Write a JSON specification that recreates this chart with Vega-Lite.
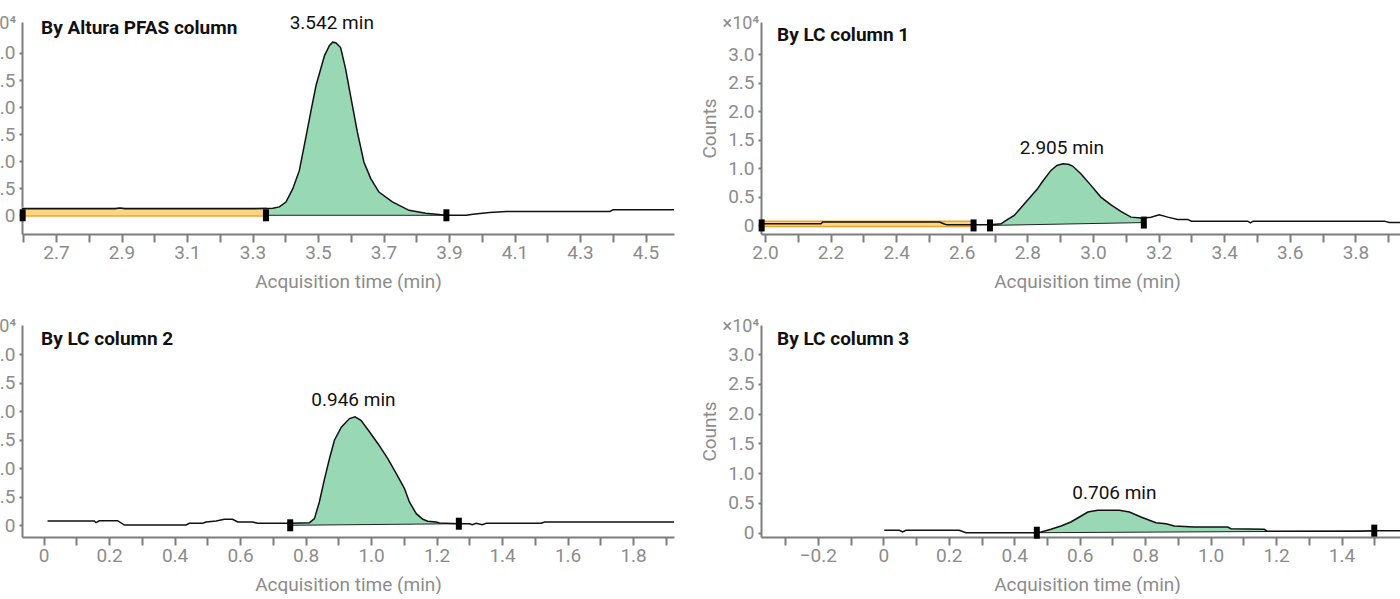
{
  "$schema": "https://vega.github.io/schema/vega-lite/v6.json",
  "padding": {"left": -39, "top": 14, "right": 0, "bottom": 0},
  "background": "white",
  "columns": 2,
  "spacing": {"row": 27, "column": 23},
  "datasets": {
    "tl_trace": [
      {"t": 2.596, "c": 1200}, {"t": 2.70, "c": 1200}, {"t": 2.88, "c": 1200}, {"t": 2.895, "c": 1350}, {"t": 2.91, "c": 1200},
      {"t": 3.10, "c": 1200}, {"t": 3.30, "c": 1200}, {"t": 3.341, "c": 1250}, {"t": 3.362, "c": 1300}, {"t": 3.382, "c": 1550},
      {"t": 3.402, "c": 2460}, {"t": 3.423, "c": 4920}, {"t": 3.443, "c": 8300}, {"t": 3.464, "c": 14790}, {"t": 3.479, "c": 19500},
      {"t": 3.494, "c": 24030}, {"t": 3.52, "c": 29570}, {"t": 3.535, "c": 31400}, {"t": 3.545, "c": 32000}, {"t": 3.554, "c": 31900},
      {"t": 3.569, "c": 31000}, {"t": 3.584, "c": 27100}, {"t": 3.599, "c": 22200}, {"t": 3.620, "c": 15400}, {"t": 3.640, "c": 9850},
      {"t": 3.661, "c": 6770}, {"t": 3.686, "c": 4300}, {"t": 3.727, "c": 2460}, {"t": 3.778, "c": 920}, {"t": 3.829, "c": 370},
      {"t": 3.892, "c": 0}, {"t": 3.953, "c": 0}, {"t": 3.973, "c": 200}, {"t": 4.024, "c": 500}, {"t": 4.075, "c": 700},
      {"t": 4.391, "c": 700}, {"t": 4.401, "c": 1000}, {"t": 4.587, "c": 1000}
    ],
    "tl_peak": [
      {"t": 3.341, "c": 1250, "b": 0}, {"t": 3.362, "c": 1300, "b": 0}, {"t": 3.382, "c": 1550, "b": 0},
      {"t": 3.402, "c": 2460, "b": 0}, {"t": 3.423, "c": 4920, "b": 0}, {"t": 3.443, "c": 8300, "b": 0}, {"t": 3.464, "c": 14790, "b": 0}, {"t": 3.479, "c": 19500, "b": 0},
      {"t": 3.494, "c": 24030, "b": 0}, {"t": 3.52, "c": 29570, "b": 0}, {"t": 3.535, "c": 31400, "b": 0}, {"t": 3.545, "c": 32000, "b": 0}, {"t": 3.554, "c": 31900, "b": 0},
      {"t": 3.569, "c": 31000, "b": 0}, {"t": 3.584, "c": 27100, "b": 0}, {"t": 3.599, "c": 22200, "b": 0}, {"t": 3.620, "c": 15400, "b": 0}, {"t": 3.640, "c": 9850, "b": 0},
      {"t": 3.661, "c": 6770, "b": 0}, {"t": 3.686, "c": 4300, "b": 0}, {"t": 3.727, "c": 2460, "b": 0}, {"t": 3.778, "c": 920, "b": 0}, {"t": 3.829, "c": 370, "b": 0},
      {"t": 3.892, "c": 0, "b": 0}
    ],
    "tl_band": [{"t": 2.598, "c": 1330, "c2": -130}, {"t": 3.341, "c": 1330, "c2": -130}],
    "tl_base": [{"t": 3.341, "c": 0}, {"t": 3.892, "c": 0}],
    "tl_mark": [{"t": 2.598, "c": 0}, {"t": 3.341, "c": 0}, {"t": 3.892, "c": 0}],
    "tl_text": [
      {"t": 3.542, "c": 32000, "label": "3.542 min", "kind": "peak"},
      {"t": 2.596, "c": 35730, "label": "By Altura PFAS column", "kind": "title"},
      {"t": 2.596, "c": 35730, "label": "×10⁴", "kind": "unit"}
    ],
    "tr_trace": [
      {"t": 1.99, "c": 280}, {"t": 2.171, "c": 280}, {"t": 2.176, "c": 580}, {"t": 2.532, "c": 580}, {"t": 2.545, "c": 300},
      {"t": 2.555, "c": 100}, {"t": 2.636, "c": 100}, {"t": 2.686, "c": 100}, {"t": 2.72, "c": 280}, {"t": 2.735, "c": 870},
      {"t": 2.76, "c": 1750}, {"t": 2.791, "c": 3780}, {"t": 2.831, "c": 6410}, {"t": 2.845, "c": 7600}, {"t": 2.872, "c": 9630},
      {"t": 2.89, "c": 10500}, {"t": 2.908, "c": 10790}, {"t": 2.925, "c": 10700}, {"t": 2.938, "c": 10390}, {"t": 2.963, "c": 9040},
      {"t": 2.994, "c": 7010}, {"t": 3.024, "c": 4960}, {"t": 3.055, "c": 3610}, {"t": 3.085, "c": 2450}, {"t": 3.116, "c": 1450},
      {"t": 3.146, "c": 1280}, {"t": 3.155, "c": 1280}, {"t": 3.177, "c": 1450}, {"t": 3.202, "c": 1860}, {"t": 3.228, "c": 1450},
      {"t": 3.258, "c": 1050}, {"t": 3.289, "c": 1050}, {"t": 3.30, "c": 750}, {"t": 3.472, "c": 750}, {"t": 3.48, "c": 460},
      {"t": 3.488, "c": 750}, {"t": 3.888, "c": 750}, {"t": 3.903, "c": 530}, {"t": 3.939, "c": 530}
    ],
    "tr_peak": [
      {"t": 2.686, "c": 100, "b": 0}, {"t": 2.72, "c": 280, "b": 36}, {"t": 2.735, "c": 870, "b": 52}, {"t": 2.76, "c": 1750, "b": 79},
      {"t": 2.791, "c": 3780, "b": 112}, {"t": 2.831, "c": 6410, "b": 155}, {"t": 2.845, "c": 7600, "b": 170}, {"t": 2.872, "c": 9630, "b": 198},
      {"t": 2.89, "c": 10500, "b": 217}, {"t": 2.908, "c": 10790, "b": 237}, {"t": 2.925, "c": 10700, "b": 255}, {"t": 2.938, "c": 10390, "b": 269},
      {"t": 2.963, "c": 9040, "b": 295}, {"t": 2.994, "c": 7010, "b": 328}, {"t": 3.024, "c": 4960, "b": 360}, {"t": 3.055, "c": 3610, "b": 393},
      {"t": 3.085, "c": 2450, "b": 425}, {"t": 3.116, "c": 1450, "b": 458}, {"t": 3.146, "c": 1280, "b": 490}, {"t": 3.155, "c": 1280, "b": 500}
    ],
    "tr_band": [{"t": 1.99, "c": 750, "c2": -170}, {"t": 2.636, "c": 750, "c2": -170}],
    "tr_base": [{"t": 2.686, "c": 0}, {"t": 3.155, "c": 500}],
    "tr_mark": [{"t": 1.99, "c": 0}, {"t": 2.636, "c": 0}, {"t": 2.686, "c": 0}, {"t": 3.155, "c": 500}],
    "tr_text": [
      {"t": 2.905, "c": 10790, "label": "2.905 min", "kind": "peak"},
      {"t": 1.988, "c": 35600, "label": "By LC column 1", "kind": "title"},
      {"t": 1.988, "c": 35600, "label": "×10⁴", "kind": "unit"}
    ],
    "bl_trace": [
      {"t": 0.012, "c": 750}, {"t": 0.155, "c": 750}, {"t": 0.160, "c": 460}, {"t": 0.170, "c": 800}, {"t": 0.226, "c": 800},
      {"t": 0.2466, "c": 50}, {"t": 0.435, "c": 50}, {"t": 0.445, "c": 350}, {"t": 0.486, "c": 350}, {"t": 0.496, "c": 580},
      {"t": 0.527, "c": 750}, {"t": 0.552, "c": 1050}, {"t": 0.577, "c": 1050}, {"t": 0.593, "c": 580}, {"t": 0.638, "c": 580},
      {"t": 0.654, "c": 350}, {"t": 0.753, "c": 350}, {"t": 0.812, "c": 460}, {"t": 0.827, "c": 1160}, {"t": 0.842, "c": 4090},
      {"t": 0.858, "c": 8180}, {"t": 0.873, "c": 11700}, {"t": 0.888, "c": 14900}, {"t": 0.909, "c": 17200}, {"t": 0.934, "c": 18700},
      {"t": 0.951, "c": 19000}, {"t": 0.969, "c": 18400}, {"t": 0.995, "c": 16400}, {"t": 1.021, "c": 14300}, {"t": 1.051, "c": 11700},
      {"t": 1.077, "c": 9050}, {"t": 1.102, "c": 6430}, {"t": 1.117, "c": 4090}, {"t": 1.138, "c": 2040}, {"t": 1.158, "c": 1050},
      {"t": 1.173, "c": 700}, {"t": 1.199, "c": 580}, {"t": 1.209, "c": 400}, {"t": 1.268, "c": 280}, {"t": 1.301, "c": 280},
      {"t": 1.309, "c": 100}, {"t": 1.321, "c": 350}, {"t": 1.339, "c": 100}, {"t": 1.352, "c": 350}, {"t": 1.519, "c": 350},
      {"t": 1.530, "c": 580}, {"t": 1.925, "c": 580}
    ],
    "bl_peak": [
      {"t": 0.753, "c": 350, "b": 0}, {"t": 0.812, "c": 460, "b": 32}, {"t": 0.827, "c": 1160, "b": 40}, {"t": 0.842, "c": 4090, "b": 48},
      {"t": 0.858, "c": 8180, "b": 57}, {"t": 0.873, "c": 11700, "b": 65}, {"t": 0.888, "c": 14900, "b": 73}, {"t": 0.909, "c": 17200, "b": 85},
      {"t": 0.934, "c": 18700, "b": 98}, {"t": 0.951, "c": 19000, "b": 108}, {"t": 0.969, "c": 18400, "b": 117}, {"t": 0.995, "c": 16400, "b": 132},
      {"t": 1.021, "c": 14300, "b": 146}, {"t": 1.051, "c": 11700, "b": 162}, {"t": 1.077, "c": 9050, "b": 176}, {"t": 1.102, "c": 6430, "b": 190},
      {"t": 1.117, "c": 4090, "b": 198}, {"t": 1.138, "c": 2040, "b": 209}, {"t": 1.158, "c": 1050, "b": 220}, {"t": 1.173, "c": 700, "b": 228},
      {"t": 1.199, "c": 580, "b": 242}, {"t": 1.209, "c": 400, "b": 248}, {"t": 1.268, "c": 280, "b": 280}
    ],
    "bl_base": [{"t": 0.753, "c": 0}, {"t": 1.268, "c": 280}],
    "bl_mark": [{"t": 0.753, "c": 0}, {"t": 1.268, "c": 280}],
    "bl_text": [
      {"t": 0.946, "c": 19000, "label": "0.946 min", "kind": "peak"},
      {"t": -0.066, "c": 35100, "label": "By LC column 2", "kind": "title"},
      {"t": -0.066, "c": 35100, "label": "×10⁴", "kind": "unit"}
    ],
    "br_trace": [
      {"t": 0.003, "c": 400}, {"t": 0.049, "c": 400}, {"t": 0.059, "c": 120}, {"t": 0.069, "c": 400}, {"t": 0.232, "c": 400},
      {"t": 0.252, "c": 0}, {"t": 0.469, "c": 0}, {"t": 0.482, "c": 120}, {"t": 0.512, "c": 570}, {"t": 0.543, "c": 1130},
      {"t": 0.573, "c": 1800}, {"t": 0.594, "c": 2470}, {"t": 0.625, "c": 3480}, {"t": 0.655, "c": 3770}, {"t": 0.721, "c": 3770},
      {"t": 0.752, "c": 3480}, {"t": 0.787, "c": 2640}, {"t": 0.833, "c": 1680}, {"t": 0.864, "c": 1520}, {"t": 0.889, "c": 1130},
      {"t": 0.950, "c": 960}, {"t": 1.052, "c": 960}, {"t": 1.062, "c": 670}, {"t": 1.164, "c": 570}, {"t": 1.174, "c": 230},
      {"t": 1.45, "c": 260}, {"t": 1.5, "c": 320}, {"t": 1.5817, "c": 320}
    ],
    "br_peak": [
      {"t": 0.469, "c": 0, "b": 0}, {"t": 0.482, "c": 120, "b": 4}, {"t": 0.512, "c": 570, "b": 13}, {"t": 0.543, "c": 1130, "b": 22},
      {"t": 0.573, "c": 1800, "b": 30}, {"t": 0.594, "c": 2470, "b": 36}, {"t": 0.625, "c": 3480, "b": 45}, {"t": 0.655, "c": 3770, "b": 54},
      {"t": 0.721, "c": 3770, "b": 73}, {"t": 0.752, "c": 3480, "b": 82}, {"t": 0.787, "c": 2640, "b": 93}, {"t": 0.833, "c": 1680, "b": 106},
      {"t": 0.864, "c": 1520, "b": 115}, {"t": 0.889, "c": 1130, "b": 122}, {"t": 0.950, "c": 960, "b": 140}, {"t": 1.052, "c": 960, "b": 170},
      {"t": 1.062, "c": 670, "b": 173}, {"t": 1.164, "c": 570, "b": 202}, {"t": 1.174, "c": 230, "b": 205}, {"t": 1.45, "c": 260, "b": 286},
      {"t": 1.5, "c": 320, "b": 300}
    ],
    "br_base": [{"t": 0.469, "c": 0}, {"t": 1.5, "c": 300}],
    "br_mark": [{"t": 0.469, "c": 0}, {"t": 1.5, "c": 350}],
    "br_text": [
      {"t": 0.706, "c": 3770, "label": "0.706 min", "kind": "peak"},
      {"t": -0.3737, "c": 34900, "label": "By LC column 3", "kind": "title"},
      {"t": -0.3737, "c": 34900, "label": "×10⁴", "kind": "unit"}
    ]
  },
  "concat": [
    {
      "width": 652, "height": 212,
      "encoding": {
        "x": {"field": "t", "type": "quantitative", "title": "Acquisition time (min)",
          "scale": {"domain": [2.596, 4.587], "nice": false, "zero": false},
          "axis": {"values": [2.6, 2.7, 2.8, 2.9, 3.0, 3.1, 3.2, 3.3, 3.4, 3.5, 3.6, 3.7, 3.8, 3.9, 4.0, 4.1, 4.2, 4.3, 4.4, 4.5],
            "labelExpr": "abs(round(datum.value*10)) % 2 == 1 ? format(datum.value, '.1f') : ''"}},
        "y": {"field": "c", "type": "quantitative", "title": "Counts",
          "scale": {"domain": [-3460, 35730], "nice": false, "zero": false},
          "axis": {"values": [0, 5000, 10000, 15000, 20000, 25000, 30000],
            "labelExpr": "datum.value == 0 ? '0' : format(datum.value/10000, '.1f')"}}
      },
      "layer": [
        {"data": {"name": "tl_band"}, "mark": {"type": "area", "fill": "#FFD583", "stroke": "#EFA42F", "strokeWidth": 1.5}, "encoding": {"y2": {"field": "c2"}}},
        {"data": {"name": "tl_peak"}, "mark": {"type": "area", "fill": "#98D8B5", "opacity": 1}, "encoding": {"y2": {"field": "b"}}},
        {"data": {"name": "tl_base"}, "mark": {"type": "line", "color": "#222222", "strokeWidth": 1}, "encoding": {}},
        {"data": {"name": "tl_trace"}, "mark": {"type": "line", "color": "#111111", "strokeWidth": 1.5}, "encoding": {}},
        {"data": {"name": "tl_mark"}, "mark": {"type": "tick", "orient": "vertical", "color": "#000000", "thickness": 6, "size": 12, "opacity": 1}, "encoding": {}},
        {"data": {"name": "tl_text"}, "transform": [{"filter": "datum.kind == 'peak'"}], "mark": {"type": "text", "align": "center", "baseline": "middle", "dy": -19, "fontSize": 19, "color": "#111111"}, "encoding": {"text": {"field": "label"}}},
        {"data": {"name": "tl_text"}, "transform": [{"filter": "datum.kind == 'title'"}], "mark": {"type": "text", "align": "left", "baseline": "middle", "dx": 19, "dy": 6, "fontSize": 19, "fontWeight": "bold", "color": "#111111"}, "encoding": {"text": {"field": "label"}}},
        {"data": {"name": "tl_text"}, "transform": [{"filter": "datum.kind == 'unit'"}], "mark": {"type": "text", "align": "right", "baseline": "middle", "dx": -6, "dy": 2, "fontSize": 18, "color": "#8c8c8c"}, "encoding": {"text": {"field": "label"}}}
      ]
    },
    {
      "width": 640, "height": 212,
      "encoding": {
        "x": {"field": "t", "type": "quantitative", "title": "Acquisition time (min)",
          "scale": {"domain": [1.988, 3.939], "nice": false, "zero": false},
          "axis": {"values": [2.0, 2.1, 2.2, 2.3, 2.4, 2.5, 2.6, 2.7, 2.8, 2.9, 3.0, 3.1, 3.2, 3.3, 3.4, 3.5, 3.6, 3.7, 3.8, 3.9], "titleX": 326,
            "labelExpr": "abs(round(datum.value*10)) % 2 == 0 ? format(datum.value, '.1f') : ''"}},
        "y": {"field": "c", "type": "quantitative", "title": "Counts",
          "scale": {"domain": [-1500, 35600], "nice": false, "zero": false},
          "axis": {"values": [0, 5000, 10000, 15000, 20000, 25000, 30000],
            "labelExpr": "datum.value == 0 ? '0' : format(datum.value/10000, '.1f')"}}
      },
      "layer": [
        {"data": {"name": "tr_band"}, "mark": {"type": "area", "fill": "#FFD583", "stroke": "#EFA42F", "strokeWidth": 1.5}, "encoding": {"y2": {"field": "c2"}}},
        {"data": {"name": "tr_peak"}, "mark": {"type": "area", "fill": "#98D8B5", "opacity": 1}, "encoding": {"y2": {"field": "b"}}},
        {"data": {"name": "tr_base"}, "mark": {"type": "line", "color": "#222222", "strokeWidth": 1}, "encoding": {}},
        {"data": {"name": "tr_trace"}, "mark": {"type": "line", "color": "#111111", "strokeWidth": 1.5}, "encoding": {}},
        {"data": {"name": "tr_mark"}, "mark": {"type": "tick", "orient": "vertical", "color": "#000000", "thickness": 6, "size": 12, "opacity": 1}, "encoding": {}},
        {"data": {"name": "tr_text"}, "transform": [{"filter": "datum.kind == 'peak'"}], "mark": {"type": "text", "align": "center", "baseline": "middle", "dy": -16, "fontSize": 19, "color": "#111111"}, "encoding": {"text": {"field": "label"}}},
        {"data": {"name": "tr_text"}, "transform": [{"filter": "datum.kind == 'title'"}], "mark": {"type": "text", "align": "left", "baseline": "middle", "dx": 16, "dy": 13, "fontSize": 19, "fontWeight": "bold", "color": "#111111"}, "encoding": {"text": {"field": "label"}}},
        {"data": {"name": "tr_text"}, "transform": [{"filter": "datum.kind == 'unit'"}], "mark": {"type": "text", "align": "right", "baseline": "middle", "dx": -2, "dy": 2, "fontSize": 18, "color": "#8c8c8c"}, "encoding": {"text": {"field": "label"}}}
      ]
    },
    {
      "width": 652, "height": 212,
      "encoding": {
        "x": {"field": "t", "type": "quantitative", "title": "Acquisition time (min)",
          "scale": {"domain": [-0.066, 1.925], "nice": false, "zero": false},
          "axis": {"values": [0, 0.1, 0.2, 0.3, 0.4, 0.5, 0.6, 0.7, 0.8, 0.9, 1.0, 1.1, 1.2, 1.3, 1.4, 1.5, 1.6, 1.7, 1.8, 1.9],
            "labelExpr": "abs(round(datum.value*10)) % 2 == 0 ? (datum.value == 0 ? '0' : format(datum.value, '.1f')) : ''"}},
        "y": {"field": "c", "type": "quantitative", "title": "Counts",
          "scale": {"domain": [-2050, 35100], "nice": false, "zero": false},
          "axis": {"values": [0, 5000, 10000, 15000, 20000, 25000, 30000],
            "labelExpr": "datum.value == 0 ? '0' : format(datum.value/10000, '.1f')"}}
      },
      "layer": [
        {"data": {"name": "bl_peak"}, "mark": {"type": "area", "fill": "#98D8B5", "opacity": 1}, "encoding": {"y2": {"field": "b"}}},
        {"data": {"name": "bl_base"}, "mark": {"type": "line", "color": "#222222", "strokeWidth": 1}, "encoding": {}},
        {"data": {"name": "bl_trace"}, "mark": {"type": "line", "color": "#111111", "strokeWidth": 1.5}, "encoding": {}},
        {"data": {"name": "bl_mark"}, "mark": {"type": "tick", "orient": "vertical", "color": "#000000", "thickness": 6, "size": 12, "opacity": 1}, "encoding": {}},
        {"data": {"name": "bl_text"}, "transform": [{"filter": "datum.kind == 'peak'"}], "mark": {"type": "text", "align": "center", "baseline": "middle", "dy": -17, "fontSize": 19, "color": "#111111"}, "encoding": {"text": {"field": "label"}}},
        {"data": {"name": "bl_text"}, "transform": [{"filter": "datum.kind == 'title'"}], "mark": {"type": "text", "align": "left", "baseline": "middle", "dx": 19, "dy": 14, "fontSize": 19, "fontWeight": "bold", "color": "#111111"}, "encoding": {"text": {"field": "label"}}},
        {"data": {"name": "bl_text"}, "transform": [{"filter": "datum.kind == 'unit'"}], "mark": {"type": "text", "align": "right", "baseline": "middle", "dx": -6, "dy": 2, "fontSize": 18, "color": "#8c8c8c"}, "encoding": {"text": {"field": "label"}}}
      ]
    },
    {
      "width": 640, "height": 212,
      "encoding": {
        "x": {"field": "t", "type": "quantitative", "title": "Acquisition time (min)",
          "scale": {"domain": [-0.3737, 1.5817], "nice": false, "zero": false},
          "axis": {"values": [-0.3, -0.2, -0.1, 0, 0.1, 0.2, 0.3, 0.4, 0.5, 0.6, 0.7, 0.8, 0.9, 1.0, 1.1, 1.2, 1.3, 1.4, 1.5], "titleX": 326,
            "labelExpr": "abs(round(datum.value*10)) % 2 == 0 ? (datum.value == 0 ? '0' : format(datum.value, '.1f')) : ''"}},
        "y": {"field": "c", "type": "quantitative", "title": "Counts",
          "scale": {"domain": [-720, 34900], "nice": false, "zero": false},
          "axis": {"values": [0, 5000, 10000, 15000, 20000, 25000, 30000],
            "labelExpr": "datum.value == 0 ? '0' : format(datum.value/10000, '.1f')"}}
      },
      "layer": [
        {"data": {"name": "br_peak"}, "mark": {"type": "area", "fill": "#98D8B5", "opacity": 1}, "encoding": {"y2": {"field": "b"}}},
        {"data": {"name": "br_base"}, "mark": {"type": "line", "color": "#222222", "strokeWidth": 1}, "encoding": {}},
        {"data": {"name": "br_trace"}, "mark": {"type": "line", "color": "#111111", "strokeWidth": 1.5}, "encoding": {}},
        {"data": {"name": "br_mark"}, "mark": {"type": "tick", "orient": "vertical", "color": "#000000", "thickness": 6, "size": 12, "opacity": 1}, "encoding": {}},
        {"data": {"name": "br_text"}, "transform": [{"filter": "datum.kind == 'peak'"}], "mark": {"type": "text", "align": "center", "baseline": "middle", "dy": -17, "fontSize": 19, "color": "#111111"}, "encoding": {"text": {"field": "label"}}},
        {"data": {"name": "br_text"}, "transform": [{"filter": "datum.kind == 'title'"}], "mark": {"type": "text", "align": "left", "baseline": "middle", "dx": 16, "dy": 14, "fontSize": 19, "fontWeight": "bold", "color": "#111111"}, "encoding": {"text": {"field": "label"}}},
        {"data": {"name": "br_text"}, "transform": [{"filter": "datum.kind == 'unit'"}], "mark": {"type": "text", "align": "right", "baseline": "middle", "dx": -2, "dy": 2, "fontSize": 18, "color": "#8c8c8c"}, "encoding": {"text": {"field": "label"}}}
      ]
    }
  ],
  "config": {
    "font": "Roboto",
    "view": {"stroke": null},
    "axis": {"grid": false, "domainColor": "#7d7d7d", "domainWidth": 2, "tickColor": "#7d7d7d", "tickWidth": 2,
      "labelColor": "#8c8c8c", "labelFont": "Roboto", "labelFontSize": 19, "titleColor": "#8c8c8c", "titleFont": "Roboto",
      "titleFontSize": 19, "titleFontWeight": "normal", "labelOverlap": false, "labelFlush": false},
    "axisX": {"tickSize": 8, "labelPadding": 1, "titlePadding": 10},
    "axisY": {"tickSize": 3, "labelPadding": 4, "titlePadding": 8}
  }
}
